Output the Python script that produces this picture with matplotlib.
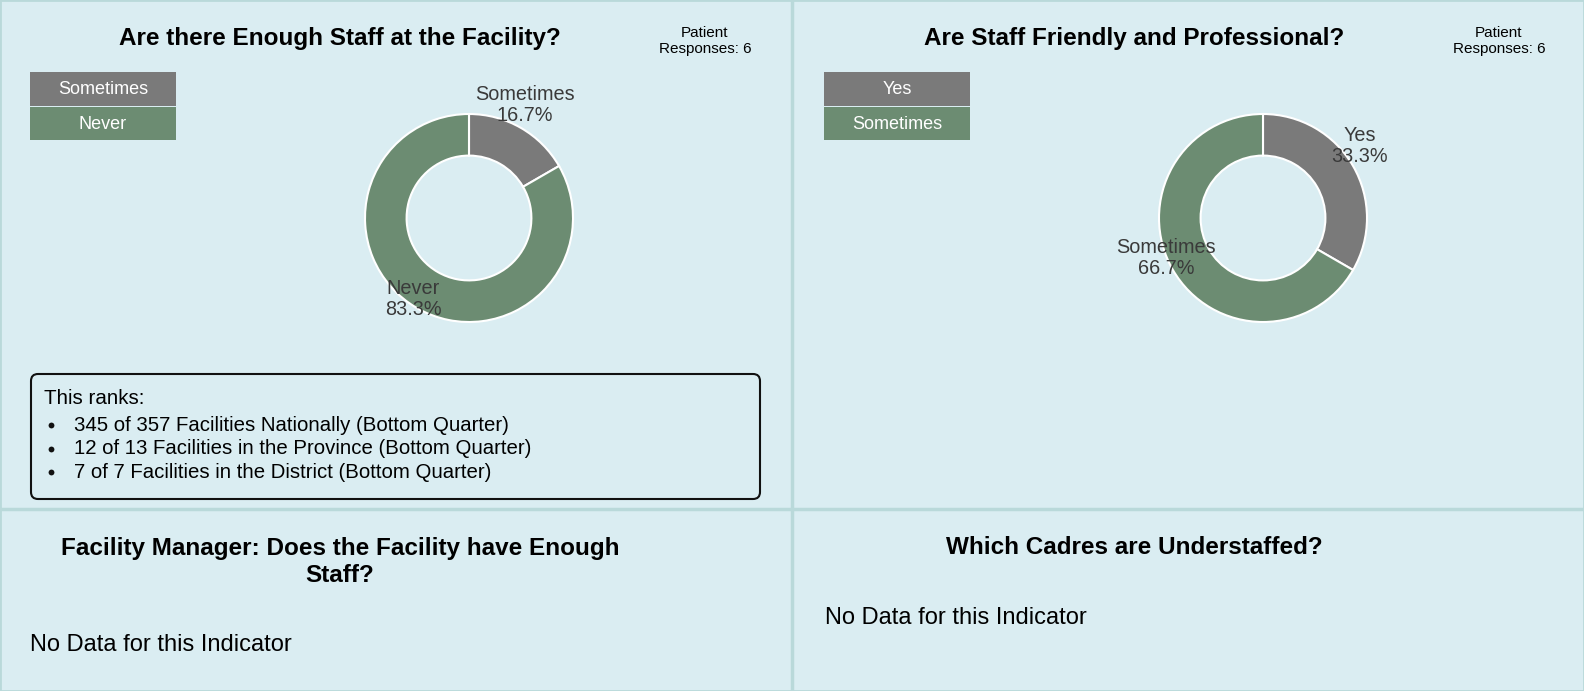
import matplotlib
matplotlib.use("Agg")
import matplotlib.pyplot as plt
from matplotlib.patches import Rectangle, FancyBboxPatch
from matplotlib.transforms import offset_copy

# ---- data ----
title1 = "Are there Enough Staff at the Facility?"
labels1 = ["Sometimes", "Never"]
values1 = [1, 5]
title2 = "Are Staff Friendly and Professional?"
labels2 = ["Yes", "Sometimes"]
values2 = [2, 4]
responses = [6, 6]
rank_lines = [
    "345 of 357 Facilities Nationally (Bottom Quarter)",
    "12 of 13 Facilities in the Province (Bottom Quarter)",
    "7 of 7 Facilities in the District (Bottom Quarter)",
]
title3 = "Facility Manager: Does the Facility have Enough\nStaff?"
title4 = "Which Cadres are Understaffed?"
nodata = "No Data for this Indicator"

colors = ["#7a7a7a", "#6c8c72"]
BG = "#daedf2"
DIV = "#b9d9da"
FONT = ["Liberation Sans", "DejaVu Sans"]
plt.rcParams["font.family"] = FONT

W, H = 1584, 691
fig = plt.figure(figsize=(W / 100, H / 100), dpi=100)
fig.patch.set_facecolor(BG)
bg = fig.add_axes([0, 0, 1, 1])
bg.set_xlim(0, W)
bg.set_ylim(H, 0)
bg.axis("off")

# dividers
bg.plot([792, 792], [0, H], color=DIV, lw=2.5)
bg.plot([0, W], [509, 509], color=DIV, lw=2.5)
bg.add_patch(Rectangle((0, 0), W, H, fill=False, ec=DIV, lw=2))


def donut(cx, cy, r, values, labels):
    size = 400
    ax = fig.add_axes([(cx - size / 2) / W, 1 - (cy + size / 2) / H, size / W, size / H])
    wedges, texts = ax.pie(values, colors=colors, startangle=90, counterclock=False,
                           radius=1.0, labels=labels, labeldistance=1.077,
                           wedgeprops=dict(width=0.4, edgecolor="white", linewidth=1.5))
    lim = size / 2 / r
    ax.set_xlim(-lim, lim)
    ax.set_ylim(-lim, lim)
    ax.set_aspect("equal")
    ax.axis("off")
    tot = sum(values)
    tr = offset_copy(ax.transData, fig=fig, x=0, y=16, units="dots")
    for t, v, l in zip(texts, values, labels):
        t.set_text(f"{l}\n{100 * v / tot:.1f}%")
        t.set_transform(tr)
        t.set_ha("center")
        t.set_va("center")
        t.set_fontsize(14.3)
        t.set_color("#3a3a3a")
        t.set_linespacing(1.13)
    return ax


def legend(x, y, labels):
    for i, l in enumerate(labels):
        bg.add_patch(Rectangle((x, y + i * 34.5), 146, 33.5, fc=colors[i], ec="none"))
        bg.text(x + 73, y + i * 34.5 + 17.5, l, color="white", ha="center", va="center", fontsize=13)


for off, title, vals, labs, resp in [(0, title1, values1, labels1, responses[0]),
                                     (794, title2, values2, labels2, responses[1])]:
    bg.text(off + 340, 38, title, ha="center", va="center", fontsize=17.5, fontweight="bold")
    bg.text(off + 705, 41, f"Patient\nResponses: {resp}", ha="center", va="center",
            fontsize=11, linespacing=1.1)
    legend(off + 30, 72, labs)
    donut(off + 469, 218, 104, vals, labs)

# rank box
bg.add_patch(FancyBboxPatch((31, 374), 729, 125, boxstyle="round,pad=0,rounding_size=7",
                            fc="none", ec="#111111", lw=1.5))
bg.text(44, 398, "This ranks:", ha="left", va="center", fontsize=14.8)
for i, line in enumerate(rank_lines):
    yy = 425 + i * 23.5
    bg.plot([51], [yy], marker="o", ms=4.2, color="#111111", mec="none")
    bg.text(74, yy, line, ha="left", va="center", fontsize=14.7)

bg.text(340, 562, title3, ha="center", va="center", fontsize=17.5, fontweight="bold",
        linespacing=1.25)
bg.text(30, 645, nodata, ha="left", va="center", fontsize=17)
bg.text(1134, 548, title4, ha="center", va="center", fontsize=17.5, fontweight="bold")
bg.text(825, 618, nodata, ha="left", va="center", fontsize=17)

fig.savefig("out.png", dpi=100, facecolor=BG)
